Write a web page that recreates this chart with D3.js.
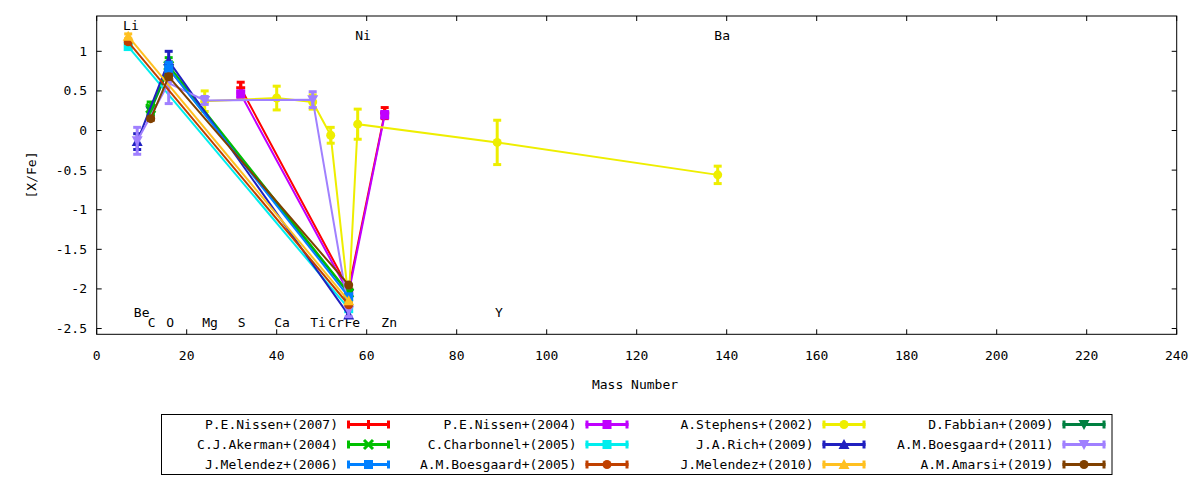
<!DOCTYPE html>
<html><head><meta charset="utf-8">
<script src="https://cdn.jsdelivr.net/npm/d3@7"></script>
<style>
body{margin:0;background:#fff;}
svg text{font-family:"DejaVu Sans Mono",monospace;font-size:13px;fill:#000;}
</style></head>
<body><svg id="c" width="1200" height="480"></svg>
<script>
// ---- data: [mass number, [X/Fe], error] ----
const nissen2007   = [[32, 0.54, 0.07], [56, -2.00, 0], [64, 0.22, 0.07]];
const nissen2004   = [[32, 0.46, 0.04], [56, -2.05, 0], [64, 0.20, 0.04]];
const stephens2002 = [[24, 0.37, 0.13], [40, 0.41, 0.15], [48, 0.36, 0.09], [52, -0.06, 0.10], [56, -2.15, 0], [58, 0.08, 0.19], [89, -0.15, 0.28], [138, -0.56, 0.11]];
const fabbian2009  = [[12, 0.25, 0.05], [16, 0.78, 0.07], [56, -2.06, 0]];
const akerman2004  = [[12, 0.28, 0.08], [16, 0.82, 0.10], [56, -2.05, 0]];
const charbonnel2005 = [[7, 1.06, 0.02], [56, -2.25, 0]];
const rich2009     = [[9, -0.14, 0.10], [16, 0.88, 0.12], [56, -2.33, 0]];
const boesgaard2011 = [[9, -0.13, 0.17], [16, 0.60, 0.26], [24, 0.38, 0.05], [48, 0.39, 0.10], [56, -2.27, 0.08]];
const melendez2006 = [[16, 0.78, 0.08], [56, -2.10, 0]];
const boesgaard2005 = [[7, 1.12, 0.02], [56, -2.20, 0]];
const melendez2010 = [[7, 1.19, 0.03], [56, -2.15, 0]];
const amarsi2019   = [[12, 0.15, 0.02], [16, 0.68, 0.03], [56, -1.95, 0]];

const seriesNames = ["P.E.Nissen+(2007)", "P.E.Nissen+(2004)", "A.Stephens+(2002)", "D.Fabbian+(2009)",
  "C.J.Akerman+(2004)", "C.Charbonnel+(2005)", "J.A.Rich+(2009)", "A.M.Boesgaard+(2011)",
  "J.Melendez+(2006)", "A.M.Boesgaard+(2005)", "J.Melendez+(2010)", "A.M.Amarsi+(2019)"];
const seriesData = [nissen2007, nissen2004, stephens2002, fabbian2009, akerman2004, charbonnel2005,
  rich2009, boesgaard2011, melendez2006, boesgaard2005, melendez2010, amarsi2019];
const seriesColors = ["#ff0000", "#c000ff", "#eeee00", "#008040", "#00c000", "#00eeee",
  "#2020c0", "#a080ff", "#0080ff", "#c04000", "#ffc020", "#804000"];
const seriesMarkers = ["plus", "square", "circle", "tridown", "cross", "square",
  "triup", "tridown", "square", "circle", "triup", "circle"];

const elementLabels = ["Li", "Be", "C", "O", "Mg", "S", "Ca", "Ti", "Cr", "Fe", "Ni", "Zn", "Y", "Ba"];
const labelMass  = [7.6, 10, 12.2, 16.3, 25.2, 32.2, 41.2, 49.2, 53.2, 56.8, 59.2, 65, 89.4, 139];
const labelValue = [1.33, -2.30, -2.43, -2.43, -2.43, -2.43, -2.43, -2.43, -2.43, -2.43, 1.20, -2.43, -2.30, 1.20];

const xTicks = [0, 20, 40, 60, 80, 100, 120, 140, 160, 180, 200, 220, 240];
const yTicks = [1, 0.5, 0, -0.5, -1, -1.5, -2, -2.5];

// ---- drawing ----
const svg = d3.select("#c");
const L = 96.7, R = 1176.7, T = 16, B = 334.3;
const x = d3.scaleLinear().domain([0, 240]).range([L, R]);
const y = d3.scaleLinear().domain([-2.573, 1.446]).range([B, T]);

// ticks (inward, mirrored)
const tl = 5;
const ax = svg.append("g");
xTicks.forEach(t => {
  ax.append("line").attr("x1", x(t)).attr("x2", x(t)).attr("y1", B).attr("y2", B - tl).attr("stroke", "#000");
  ax.append("line").attr("x1", x(t)).attr("x2", x(t)).attr("y1", T).attr("y2", T + tl).attr("stroke", "#000");
  ax.append("text").attr("x", x(t)).attr("y", 355).attr("text-anchor", "middle").attr("dominant-baseline", "central").text(t);
});
yTicks.forEach(t => {
  ax.append("line").attr("x1", L).attr("x2", L + tl).attr("y1", y(t)).attr("y2", y(t)).attr("stroke", "#000");
  ax.append("line").attr("x1", R).attr("x2", R - tl).attr("y1", y(t)).attr("y2", y(t)).attr("stroke", "#000");
  ax.append("text").attr("x", 87).attr("y", y(t)).attr("text-anchor", "end").attr("dominant-baseline", "central").text(String(t));
});

svg.append("text").attr("transform", "translate(31,175) rotate(-90)").attr("text-anchor", "middle")
  .attr("dominant-baseline", "central").text("[X/Fe]");
svg.append("text").attr("x", 635).attr("y", 384).attr("text-anchor", "middle")
  .attr("dominant-baseline", "central").text("Mass Number");

// element labels
elementLabels.forEach((e, i) => {
  svg.append("text").attr("x", x(labelMass[i])).attr("y", y(labelValue[i])).attr("text-anchor", "middle")
    .attr("dominant-baseline", "central").text(e);
});

function marker(g, type, cx, cy, color, s) {
  s = s || 4.5;
  if (type === "plus") {
    g.append("path").attr("d", `M${cx - s},${cy}H${cx + s}M${cx},${cy - s}V${cy + s}`).attr("stroke", color).attr("stroke-width", 3);
  } else if (type === "cross") {
    g.append("path").attr("d", `M${cx - s},${cy - s}L${cx + s},${cy + s}M${cx - s},${cy + s}L${cx + s},${cy - s}`).attr("stroke", color).attr("stroke-width", 3);
  } else if (type === "square") {
    g.append("rect").attr("x", cx - s).attr("y", cy - s).attr("width", 2 * s).attr("height", 2 * s).attr("fill", color);
  } else if (type === "circle") {
    g.append("circle").attr("cx", cx).attr("cy", cy).attr("r", s).attr("fill", color);
  } else if (type === "triup") {
    g.append("path").attr("d", `M${cx},${cy - s - 1}L${cx + s + 1},${cy + s}L${cx - s - 1},${cy + s}Z`).attr("fill", color);
  } else if (type === "tridown") {
    g.append("path").attr("d", `M${cx},${cy + s + 1}L${cx + s + 1},${cy - s}L${cx - s - 1},${cy - s}Z`).attr("fill", color);
  }
}

const plot = svg.append("g");
const line = d3.line().x(d => x(d[0])).y(d => y(d[1]));
seriesData.forEach((data, i) => {
  const c = seriesColors[i];
  const g = plot.append("g");
  g.append("path").attr("d", line(data)).attr("fill", "none").attr("stroke", c).attr("stroke-width", 2);
  data.forEach(d => {
    if (d[2] > 0) {
      const px = x(d[0]), y1 = y(d[1] + d[2]), y2 = y(d[1] - d[2]);
      g.append("line").attr("x1", px).attr("x2", px).attr("y1", y1).attr("y2", y2).attr("stroke", c).attr("stroke-width", 3);
      g.append("line").attr("x1", px - 4).attr("x2", px + 4).attr("y1", y1).attr("y2", y1).attr("stroke", c).attr("stroke-width", 3);
      g.append("line").attr("x1", px - 4).attr("x2", px + 4).attr("y1", y2).attr("y2", y2).attr("stroke", c).attr("stroke-width", 3);
    }
    marker(g, seriesMarkers[i], x(d[0]), y(d[1]), c);
  });
});

// frame
svg.append("rect").attr("x", L).attr("y", T).attr("width", R - L).attr("height", B - T)
  .attr("fill", "none").attr("stroke", "#000").attr("stroke-width", 1);

// legend
const lg = svg.append("g");
lg.append("rect").attr("x", 161.5).attr("y", 414.5).attr("width", 950.5).attr("height", 60)
  .attr("fill", "none").attr("stroke", "#000").attr("stroke-width", 1);
const colTextEnd = [338, 576.5, 813.5, 1053.5];
const rowY = [424.5, 444.5, 464.5];
seriesNames.forEach((n, i) => {
  const col = i % 4, row = Math.floor(i / 4);
  const te = colTextEnd[col], yy = rowY[row], c = seriesColors[i];
  lg.append("text").attr("x", te).attr("y", yy).attr("text-anchor", "end").attr("dominant-baseline", "central").text(n);
  const x1 = te + 9, x2 = te + 52;
  lg.append("line").attr("x1", x1).attr("x2", x2).attr("y1", yy).attr("y2", yy).attr("stroke", c).attr("stroke-width", 3);
  lg.append("line").attr("x1", x1 + 1.5).attr("x2", x1 + 1.5).attr("y1", yy - 4).attr("y2", yy + 4).attr("stroke", c).attr("stroke-width", 3);
  lg.append("line").attr("x1", x2 - 1.5).attr("x2", x2 - 1.5).attr("y1", yy - 4).attr("y2", yy + 4).attr("stroke", c).attr("stroke-width", 3);
  marker(lg, seriesMarkers[i], (x1 + x2) / 2, yy, c);
});
</script></body></html>
